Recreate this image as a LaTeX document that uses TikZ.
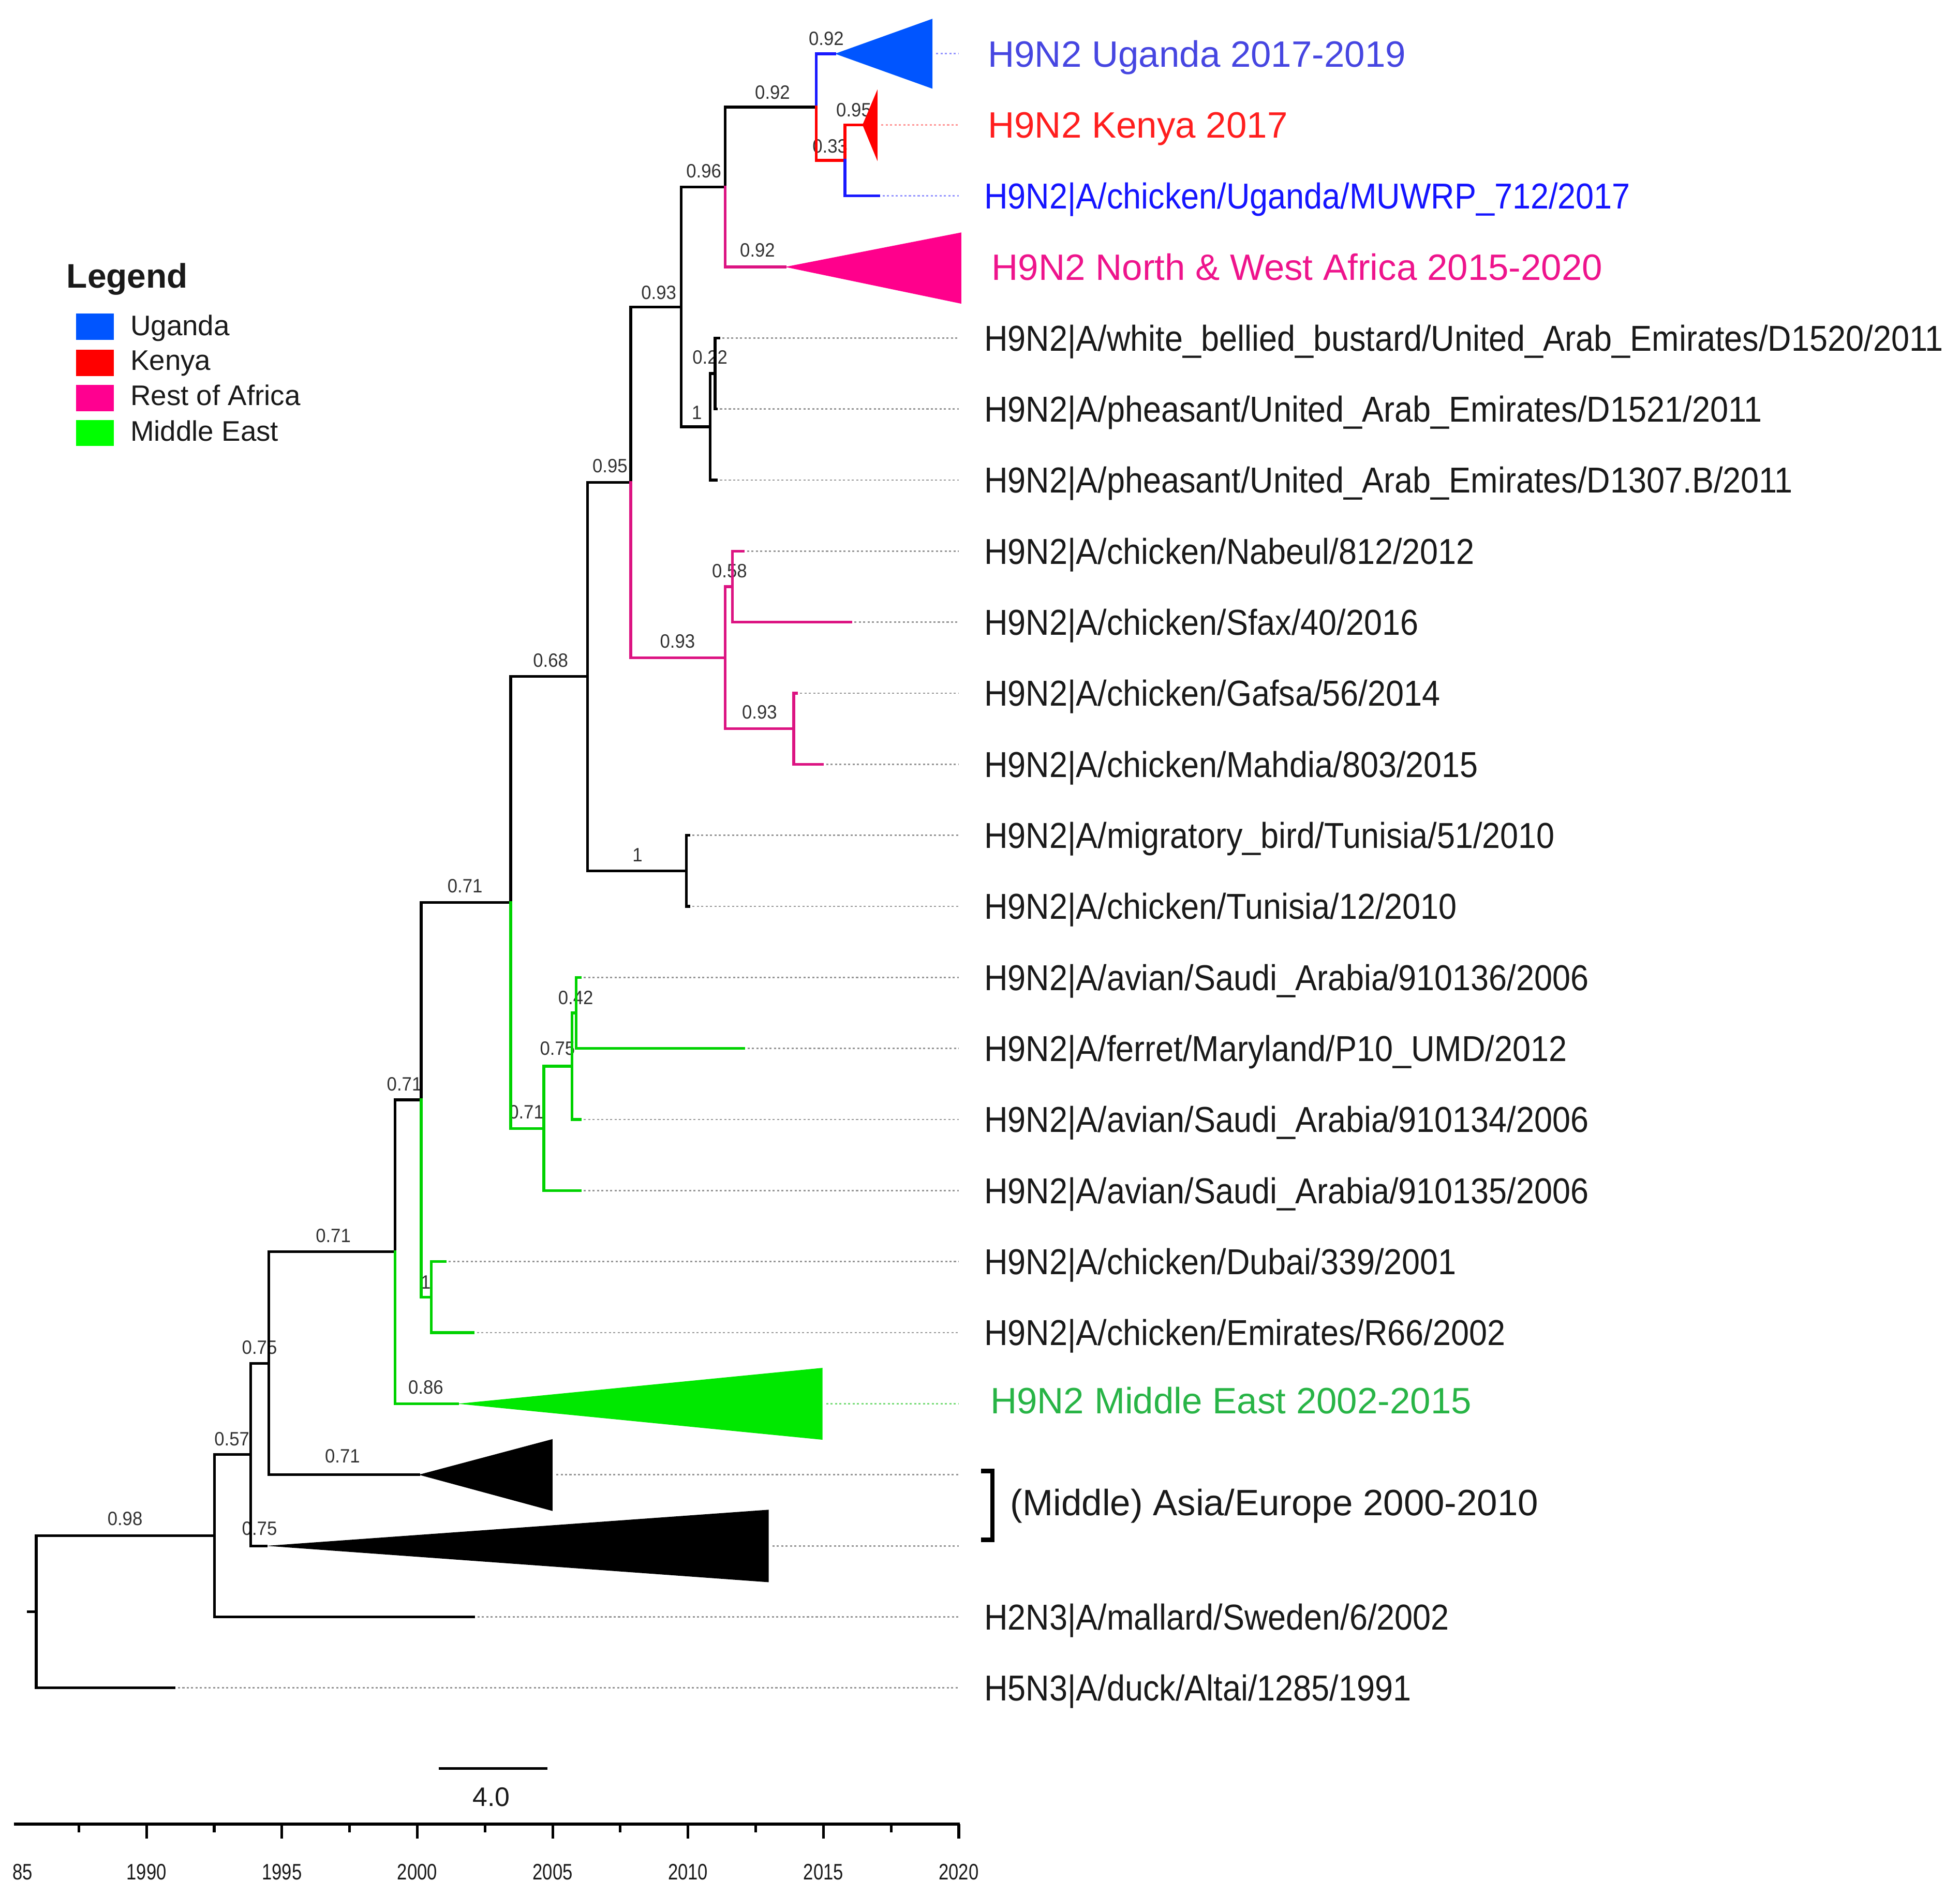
\documentclass[tikz,border=0pt]{standalone}
\usepackage{fontspec}
\setmainfont{Liberation Sans}
\newfontfamily\tipff{Liberation Sans}[FakeStretch=0.905]
\newfontfamily\supff{Liberation Sans}[FakeStretch=0.93]
\newfontfamily\axff{Liberation Sans}[FakeStretch=0.8]
\definecolor{ugtri}{RGB}{0,85,255}
\definecolor{ugbr}{RGB}{25,25,255}
\definecolor{kered}{RGB}{255,0,0}
\definecolor{nwtri}{RGB}{255,0,140}
\definecolor{nwbr}{RGB}{220,20,130}
\definecolor{mebr}{RGB}{0,210,0}
\definecolor{metri}{RGB}{0,232,0}
\definecolor{lgblue}{RGB}{0,85,255}
\definecolor{lgred}{RGB}{255,0,0}
\definecolor{lgpink}{RGB}{255,0,144}
\definecolor{lggreen}{RGB}{0,255,0}
\definecolor{labug}{RGB}{70,70,225}
\definecolor{labke}{RGB}{255,30,30}
\definecolor{labmu}{RGB}{20,20,255}
\definecolor{labnw}{RGB}{238,20,140}
\definecolor{labme}{RGB}{40,180,70}
\definecolor{dotgray}{RGB}{150,150,150}
\definecolor{dotblue}{RGB}{150,150,255}
\definecolor{dotred}{RGB}{255,150,150}
\definecolor{dotgreen}{RGB}{120,220,120}
\definecolor{supgray}{RGB}{50,50,50}
\definecolor{txt}{RGB}{25,25,25}
\begin{document}
\begin{tikzpicture}[x=0.02cm,y=-0.02cm,
  br/.style={line width=1.25pt,line cap=rect,line join=miter},
  dotl/.style={line width=0.65pt,dash pattern=on 0.95pt off 1.05pt,color=dotgray,shorten <=1.7pt},
  tiplab/.style={anchor=base west,inner sep=0pt,text=txt,font=\tipff\fontsize{16.4pt}{18pt}\selectfont},
  cladelab/.style={anchor=base west,inner sep=0pt,font=\fontsize{16.7pt}{19pt}\selectfont},
  sup/.style={inner sep=0pt,text=supgray,font=\supff\fontsize{8.8pt}{10pt}\selectfont},
  axlab/.style={inner sep=0pt,text=txt,font=\axff\fontsize{10.2pt}{12pt}\selectfont},
  axln/.style={line width=1.35pt},
  legbox/.style={draw=none,minimum width=0.6cm,minimum height=0.42cm,inner sep=0pt},
  leglab/.style={anchor=base west,inner sep=0pt,text=txt,font=\fontsize{12.9pt}{15pt}\selectfont}]
\useasboundingbox (0,0) rectangle (1568,1517);

% ---------- support values (drawn first, lines go over them) ----------
\node[sup] (s01) at (661,31) {0.92};
\node[sup] (s02) at (618,74) {0.92};
\node[sup] (s03) at (683,88) {0.95};
\node[sup] (s04) at (664,117) {0.33};
\node[sup] (s05) at (563,137) {0.96};
\node[sup] (s06) at (606,200) {0.92};
\node[sup] (s07) at (527,234) {0.93};
\node[sup] (s08) at (568,286) {0.22};
\node[sup] (s09) at (557.5,330) {1};
\node[sup] (s10) at (488,373) {0.95};
\node[sup] (s11) at (583.6,457) {0.58};
\node[sup] (s12) at (542,513) {0.93};
\node[sup] (s13) at (440.5,528.6) {0.68};
\node[sup] (s14) at (607.6,570) {0.93};
\node[sup] (s15) at (510,684) {1};
\node[sup] (s16) at (372,709) {0.71};
\node[sup] (s17) at (460.6,798.4) {0.42};
\node[sup] (s18) at (446,839) {0.75};
\node[sup] (s19) at (323.5,867.6) {0.71};
\node[sup] (s20) at (421,890) {0.71};
\node[sup] (s21) at (266.6,988.8) {0.71};
\node[sup] (s22) at (340.6,1026) {1};
\node[sup] (s23) at (207.6,1078) {0.75};
\node[sup] (s24) at (340.6,1110) {0.86};
\node[sup] (s25) at (185.5,1151.5) {0.57};
\node[sup] (s26) at (274,1165) {0.71};
\node[sup] (s27) at (100,1215) {0.98};
\node[sup] (s28) at (207.6,1223) {0.75};

% ---------- internal nodes ----------
\coordinate (root) at (29,1289.7);
\coordinate (rootstub) at (22.6,1289.7);
\coordinate (n098) at (171.7,1228.8);
\coordinate (n057) at (200.6,1163.85);
\coordinate (n075a) at (215,1090.8);
\coordinate (n071a) at (316,1001.6);
\coordinate (n071c) at (337,880);
\coordinate (n1) at (345,1037.9);
\coordinate (n071d) at (408.6,722.1);
\coordinate (n071e) at (435,902.9);
\coordinate (n075b) at (457.6,853.15);
\coordinate (n042) at (461,810.5);
\coordinate (n068) at (470,541.35);
\coordinate (n1b) at (549,696.8);
\coordinate (n095) at (504.6,385.9);
\coordinate (n093p) at (580,526.25);
\coordinate (n058) at (586,469.4);
\coordinate (n093q) at (635,583.1);
\coordinate (n093a) at (545,245.6);
\coordinate (nUAE) at (568,341.5);
\coordinate (n022) at (572,298.85);
\coordinate (n096) at (580,149.6);
\coordinate (n092a) at (653,85.65);
\coordinate (n033) at (676,128.3);

% ---------- tips ----------
\coordinate (t02) at (703,156.7);
\coordinate (t04) at (575,270.4);
\coordinate (t05) at (573,327.3);
\coordinate (t06) at (573,384.1);
\coordinate (t07) at (594.6,441.0);
\coordinate (t08) at (680.5,497.8);
\coordinate (t09) at (637,554.7);
\coordinate (t10) at (658,611.5);
\coordinate (t11) at (551,668.4);
\coordinate (t12) at (551,725.2);
\coordinate (t13) at (464,782.1);
\coordinate (t14) at (595,838.9);
\coordinate (t15) at (464,895.8);
\coordinate (t16) at (464,952.6);
\coordinate (t17) at (356,1009.5);
\coordinate (t18) at (378.6,1066.3);
\coordinate (t22) at (379,1293.7);
\coordinate (t23) at (139.4,1350.6);

% collapsed clades: apex and right edge
\coordinate (aUg) at (668,43);     \coordinate (rUgT) at (746,15);     \coordinate (rUgB) at (746,71);     \coordinate (rUg) at (746,43);
\coordinate (aKe) at (690,99.9);   \coordinate (rKeT) at (702,71.5);   \coordinate (rKeB) at (702,129);    \coordinate (rKe) at (702,99.9);
\coordinate (aNW) at (628,213.6);  \coordinate (rNWT) at (769,186);    \coordinate (rNWB) at (769,243);
\coordinate (aME) at (366,1123.2); \coordinate (rMET) at (658,1094.5); \coordinate (rMEB) at (658,1152);   \coordinate (rME) at (658,1123.2);
\coordinate (aA1) at (335,1180);   \coordinate (rA1T) at (442,1151.5); \coordinate (rA1B) at (442,1209);   \coordinate (rA1) at (442,1180);
\coordinate (aA2) at (213,1236.9); \coordinate (rA2T) at (615,1208);   \coordinate (rA2B) at (615,1266);   \coordinate (rA2) at (615,1236.9);

% ---------- dotted leader lines ----------
\foreach \t/\y in {t04/270.4,t05/327.3,t06/384.1,t07/441.0,t08/497.8,t09/554.7,t10/611.5,t11/668.4,t12/725.2,t13/782.1,t14/838.9,t15/895.8,t16/952.6,t17/1009.5,t18/1066.3,t22/1293.7,t23/1350.6,rA1/1180,rA2/1236.9}{
  \coordinate (d-\t) at (767,\y);
  \draw[dotl] (\t) -- (d-\t);
}
\coordinate (dUg) at (767,43);
\coordinate (dKe) at (767,99.9);
\coordinate (dMu) at (767,156.7);
\coordinate (dME) at (767,1123.2);
\draw[dotl,color=dotblue] (rUg) -- (dUg);
\draw[dotl,color=dotred] (rKe) -- (dKe);
\draw[dotl,color=dotblue] (t02) -- (dMu);
\draw[dotl,color=dotgreen] (rME) -- (dME);

% ---------- triangles ----------
\fill[ugtri] (aUg) -- (rUgT) -- (rUgB) -- cycle;
\fill[kered] (aKe) -- (rKeT) -- (rKeB) -- cycle;
\fill[nwtri] (aNW) -- (rNWT) -- (rNWB) -- cycle;
\fill[metri] (aME) -- (rMET) -- (rMEB) -- cycle;
\fill[black] (aA1) -- (rA1T) -- (rA1B) -- cycle;
\fill[black] (aA2) -- (rA2T) -- (rA2B) -- cycle;

% ---------- branches ----------
\draw[br] (rootstub) -- (root);
\draw[br] (root) |- (n098);
\draw[br] (root) |- (t23);
\draw[br] (n098) |- (n057);
\draw[br] (n098) |- (t22);
\draw[br] (n057) |- (n075a);
\draw[br] (n057) |- (aA2);
\draw[br] (n075a) |- (n071a);
\draw[br] (n075a) |- (aA1);
\draw[br] (n071a) |- (n071c);
\draw[br,mebr] (n071a) |- (aME);
\draw[br] (n071c) |- (n071d);
\draw[br,mebr] (n071c) |- (n1);
\draw[br,mebr] (n1) |- (t17);
\draw[br,mebr] (n1) |- (t18);
\draw[br] (n071d) |- (n068);
\draw[br,mebr] (n071d) |- (n071e);
\draw[br,mebr] (n071e) |- (n075b);
\draw[br,mebr] (n071e) |- (t16);
\draw[br,mebr] (n075b) |- (n042);
\draw[br,mebr] (n075b) |- (t15);
\draw[br,mebr] (n042) |- (t13);
\draw[br,mebr] (n042) |- (t14);
\draw[br] (n068) |- (n095);
\draw[br] (n068) |- (n1b);
\draw[br] (n1b) |- (t11);
\draw[br] (n1b) |- (t12);
\draw[br] (n095) |- (n093a);
\draw[br,nwbr] (n095) |- (n093p);
\draw[br,nwbr] (n093p) |- (n058);
\draw[br,nwbr] (n093p) |- (n093q);
\draw[br,nwbr] (n058) |- (t07);
\draw[br,nwbr] (n058) |- (t08);
\draw[br,nwbr] (n093q) |- (t09);
\draw[br,nwbr] (n093q) |- (t10);
\draw[br] (n093a) |- (n096);
\draw[br] (n093a) |- (nUAE);
\draw[br] (nUAE) |- (n022);
\draw[br] (nUAE) |- (t06);
\draw[br] (n022) |- (t04);
\draw[br] (n022) |- (t05);
\draw[br] (n096) |- (n092a);
\draw[br,nwbr] (n096) |- (aNW);
\draw[br,ugbr] (n092a) |- (aUg);
\draw[br,kered] (n092a) |- (n033);
\draw[br,kered] (n033) |- (aKe);
\draw[br,ugbr] (n033) |- (t02);

% ---------- tip labels ----------
\node[cladelab,text=labug] (L00) at (790,53.5) {H9N2 Uganda 2017-2019};
\node[cladelab,text=labke] (L01) at (790,110.4) {H9N2 Kenya 2017};
\node[tiplab,text=labmu] (L02) at (787,167) {H9N2|A/chicken/Uganda/MUWRP\_712/2017};
\node[cladelab,text=labnw] (L03) at (793,224.1) {H9N2 North \& West Africa 2015-2020};
\node[tiplab] (L04) at (787,280.7) {H9N2|A/white\_bellied\_bustard/United\_Arab\_Emirates/D1520/2011};
\node[tiplab] (L05) at (787,337.6) {H9N2|A/pheasant/United\_Arab\_Emirates/D1521/2011};
\node[tiplab] (L06) at (787,394.4) {H9N2|A/pheasant/United\_Arab\_Emirates/D1307.B/2011};
\node[tiplab] (L07) at (787,451.3) {H9N2|A/chicken/Nabeul/812/2012};
\node[tiplab] (L08) at (787,508.1) {H9N2|A/chicken/Sfax/40/2016};
\node[tiplab] (L09) at (787,565.0) {H9N2|A/chicken/Gafsa/56/2014};
\node[tiplab] (L10) at (787,621.8) {H9N2|A/chicken/Mahdia/803/2015};
\node[tiplab] (L11) at (787,678.7) {H9N2|A/migratory\_bird/Tunisia/51/2010};
\node[tiplab] (L12) at (787,735.5) {H9N2|A/chicken/Tunisia/12/2010};
\node[tiplab] (L13) at (787,792.4) {H9N2|A/avian/Saudi\_Arabia/910136/2006};
\node[tiplab] (L14) at (787,849.2) {H9N2|A/ferret/Maryland/P10\_UMD/2012};
\node[tiplab] (L15) at (787,906.1) {H9N2|A/avian/Saudi\_Arabia/910134/2006};
\node[tiplab] (L16) at (787,962.9) {H9N2|A/avian/Saudi\_Arabia/910135/2006};
\node[tiplab] (L17) at (787,1019.8) {H9N2|A/chicken/Dubai/339/2001};
\node[tiplab] (L18) at (787,1076.6) {H9N2|A/chicken/Emirates/R66/2002};
\node[cladelab,text=labme] (L19) at (792,1131) {H9N2 Middle East 2002-2015};
\node[cladelab,text=txt] (L20) at (808,1212.5) {(Middle) Asia/Europe 2000-2010};
\node[tiplab] (L22) at (787,1304) {H2N3|A/mallard/Sweden/6/2002};
\node[tiplab] (L23) at (787,1360.9) {H5N3|A/duck/Altai/1285/1991};

% bracket for the two Asia/Europe clades
\coordinate (bk1) at (785,1177);
\coordinate (bk2) at (794,1177);
\coordinate (bk3) at (794,1232);
\coordinate (bk4) at (785,1232);
\draw[line width=2pt,line join=miter] (bk1) -- (bk2) -- (bk3) -- (bk4);

% ---------- legend ----------
\node[anchor=base west,inner sep=0pt,text=txt,font=\bfseries\fontsize{15.5pt}{18pt}\selectfont] (legT) at (53,230.5) {Legend};
\node[legbox,fill=lgblue] (lg1) at (76,261.5) {};
\node[legbox,fill=lgred] (lg2) at (76,290.5) {};
\node[legbox,fill=lgpink] (lg3) at (76,318.5) {};
\node[legbox,fill=lggreen] (lg4) at (76,346.5) {};
\node[leglab] (lt1) at (104,268.3) {Uganda};
\node[leglab] (lt2) at (104,296.3) {Kenya};
\node[leglab] (lt3) at (104,324.3) {Rest of Africa};
\node[leglab] (lt4) at (104,353) {Middle East};

% ---------- scale bar ----------
\coordinate (sb1) at (351,1415);
\coordinate (sb2) at (438,1415);
\draw[line width=1.3pt] (sb1) -- (sb2);
\node[inner sep=0pt,text=txt,font=\fontsize{12.2pt}{14pt}\selectfont] (sbl) at (393,1438) {4.0};

% ---------- time axis ----------
\coordinate (ax0) at (11,1459.5);
\coordinate (ax1) at (768,1459.5);
\draw[axln] (ax0) -- (ax1);
\foreach \yr in {1990,1995,2000,2005,2010,2015,2020}{
  \draw[line width=1.2pt] ({767-(2020-\yr)*21.66},1459.5) -- ++(0,11.5);
  \node[axlab] at ({767-(2020-\yr)*21.66},1498) {\yr};
}
\foreach \yr in {1987.5,1992.5,1997.5,2002.5,2007.5,2012.5,2017.5}{
  \draw[line width=1.2pt] ({767-(2020-\yr)*21.66},1459.5) -- ++(0,6.5);
}
\node[axlab] (ax85) at (18,1498) {85};
\end{tikzpicture}
\end{document}
